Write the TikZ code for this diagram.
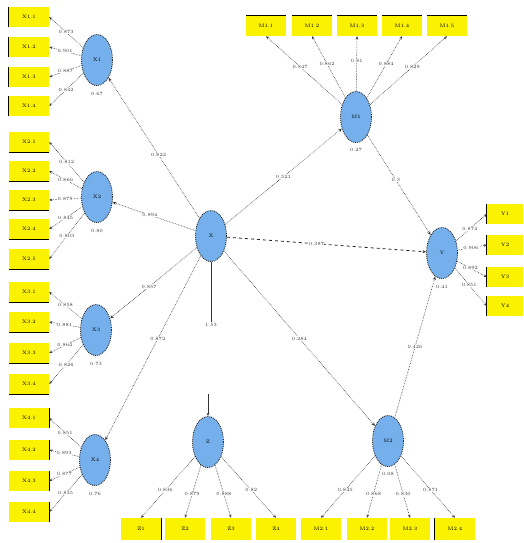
\documentclass[tikz,border=0pt]{standalone}
\usetikzlibrary{shapes.geometric,arrows.meta}
\definecolor{lvblue}{RGB}{118,176,236}
\definecolor{indyel}{RGB}{250,242,0}
\begin{document}
\begin{tikzpicture}[x=1pt,y=-1pt,
  ind/.style={fill=indyel, minimum width=40pt, minimum height=20pt, inner sep=0pt, font=\fontsize{5}{5}\selectfont},
  lv/.style={ellipse, fill=lvblue, draw=black!85, densely dotted, line width=0.9pt, minimum width=31pt, minimum height=51pt, inner sep=0pt, font=\fontsize{5}{5}\selectfont},
  ld/.style={-{Stealth[length=3.2pt,width=2.6pt]}, draw=black!80, densely dotted, line width=0.6pt},
  pth/.style={-{Stealth[length=3.6pt,width=3pt]}, draw=black!80, densely dotted, line width=0.6pt},
  lab/.style={font=\fontsize{4.8}{4.8}\selectfont, fill=white, inner sep=0.4pt, text=black!80},
  boxedge/.style={line width=1.2pt, black}]
\useasboundingbox (0,0) rectangle (523,543);
\fill[white] (0,0) rectangle (523,543);

% latent variables
\node[lv] (x1) at (97,60) {X1};
\node[lv] (x2) at (97,197) {X2};
\node[lv] (x3) at (96,330) {X3};
\node[lv] (x4) at (95,460) {X4};
\node[lv] (x) at (211,236) {X};
\node[lv] (m1) at (356,117) {M1};
\node[lv] (y) at (442,253) {Y};
\node[lv] (z) at (208,442) {Z};
\node[lv] (m2) at (388,441) {M2};

% R2 labels
\node[lab] at (97,94) {0.67};
\node[lab] at (97,231) {0.80};
\node[lab] at (96,364) {0.73};
\node[lab] at (95,494) {0.76};
\node[lab] at (356,150) {0.27};
\node[lab] at (442,287) {0.41};
\node[lab] at (388,474) {0.08};

% left indicators
\foreach \n/\yy in {1/17,2/47,3/77,4/106}{
  \node[ind] (a\n) at (29,\yy) {X1.\n};
  \draw[boxedge] (a\n.north west) -- (a\n.south west);
}
\foreach \n/\yy in {1/142,2/171,3/200,4/229,5/259}{
  \node[ind] (b\n) at (29,\yy) {X2.\n};
  \draw[boxedge] (b\n.south west) -- (b\n.south east);
}
\foreach \n/\yy in {1/292,2/322,3/353,4/384}{
  \node[ind] (c\n) at (29,\yy) {X3.\n};
  \draw[boxedge] (c\n.south west) -- (c\n.south east);
}
\foreach \n/\yy in {1/418,2/450,3/481,4/512}{
  \node[ind] (d\n) at (29,\yy) {X4.\n};
  \draw[boxedge] (d\n.north east) -- (d\n.south east);
}
% top indicators
\foreach \n/\xx in {1/266,2/312,3/357,4/402,5/447}{
  \node[ind] (t\n) at (\xx,26) {M1.\n};
  \draw[boxedge] (t\n.north west) -- (t\n.north east);
}
% right indicators
\foreach \n/\yy in {1/214,2/245,3/277,4/306}{
  \node[ind, minimum width=36pt] (r\n) at (505,\yy) {Y\n};
  \draw[boxedge] (r\n.north west) -- (r\n.south west);
}
% bottom indicators
\foreach \n/\xx in {1/141,2/185,3/231,4/276}{
  \node[ind, minimum height=22pt] (u\n) at (\xx,529) {Z\n};
}
\foreach \n/\xx in {1/321,2/367,3/410,4/455}{
  \node[ind, minimum height=22pt] (v\n) at (\xx,529) {M2.\n};
}
\draw[boxedge] (u1.north east) -- (u1.south east);
\draw[boxedge] (v4.north west) -- (v4.south west);

% loadings
\foreach \n/\v in {1/0.873,2/0.901,3/0.887,4/0.842}{
  \draw[ld] (x1) -- node[lab]{\v} (a\n.east);
}
\foreach \n/\v in {1/0.812,2/0.866,3/0.879,4/0.845,5/0.803}{
  \draw[ld] (x2) -- node[lab]{\v} (b\n.east);
}
\foreach \n/\v in {1/0.858,2/0.881,3/0.864,4/0.826}{
  \draw[ld] (x3) -- node[lab]{\v} (c\n.east);
}
\foreach \n/\v in {1/0.851,2/0.893,3/0.877,4/0.835}{
  \draw[ld] (x4) -- node[lab]{\v} (d\n.east);
}
\foreach \n/\v in {1/0.847,2/0.862,3/0.81,4/0.884,5/0.829}{
  \draw[ld] (m1) -- node[lab, pos=0.55]{\v} (t\n.south);
}
\foreach \n/\v in {1/0.874,2/0.906,3/0.892,4/0.851}{
  \draw[ld] (y) -- node[lab, pos=0.45]{\v} (r\n.west);
}
\foreach \n/\v in {1/0.836,2/0.879,3/0.888,4/0.82}{
  \draw[ld] (z) -- node[lab, pos=0.55]{\v} (u\n.north);
}
\foreach \n/\v in {1/0.845,2/0.868,3/0.830,4/0.871}{
  \draw[ld] (m2) -- node[lab, pos=0.55]{\v} (v\n.north);
}

% structural paths
\draw[pth] (x) -- node[lab, pos=0.45]{0.822} (x1);
\draw[pth] (x) -- node[lab, pos=0.55]{0.894} (x2);
\draw[pth] (x) -- node[lab, pos=0.55]{0.857} (x3);
\draw[pth] (x) -- node[lab, pos=0.45]{0.872} (x4);
\draw[pth] (x) -- node[lab, pos=0.5]{0.521} (m1);
\draw[-{Stealth[length=3.6pt,width=3pt]}, draw=black!85, dashed, line width=0.8pt] (x) -- node[lab, pos=0.45]{0.387} (y);
\draw[pth] (x) -- node[lab, pos=0.5]{0.284} (m2);
\draw[pth] (m1) -- node[lab, pos=0.45]{0.3} (y);
\draw[pth] (m2) -- node[lab, pos=0.5]{0.426} (y);

\coordinate (xd) at (211,322);
\draw[draw=black!80, line width=0.6pt] (x) -- (xd);
\node[lab, below=0.5pt] at (xd) {1.53};
\coordinate (zu) at (208,394);
\draw[-{Stealth[length=3.2pt,width=2.6pt]}, draw=black!80, line width=0.6pt] (zu) -- (z);
\end{tikzpicture}
\end{document}
